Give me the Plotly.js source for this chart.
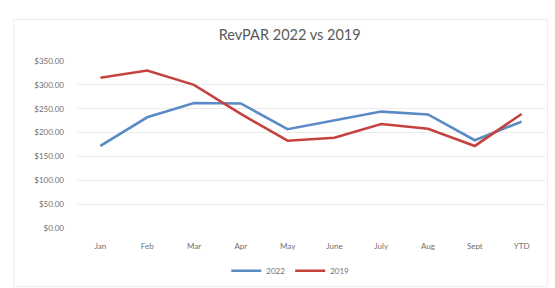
<!DOCTYPE html>
<html>
<head>
<meta charset="utf-8">
<script src="https://cdn.plot.ly/plotly-3.0.1.min.js"></script>
<style>html,body{margin:0;padding:0;background:#fff;}#chart{width:555px;height:288px;}</style>
</head>
<body>
<div id="chart"></div>
<script>
const months = ["Jan","Feb","Mar","Apr","May","June","July","Aug","Sept","YTD"];
const revpar2022 = [172, 232, 262, 261, 207, 225, 244, 238, 184, 223];
const revpar2019 = [315, 330, 300, 239, 183, 189, 218, 208, 172, 239];
const yTicks = [0, 50, 100, 150, 200, 250, 300, 350];
const yTickText = ["$0.00","$50.00","$100.00","$150.00","$200.00","$250.00","$300.00","$350.00"];

const traces = [
  {x: months, y: revpar2022, name: "2022", type: "scatter", mode: "lines",
   line: {color: "#5b8ac4", width: 2.6}},
  {x: months, y: revpar2019, name: "2019", type: "scatter", mode: "lines",
   line: {color: "#c4433f", width: 2.6}}
];

const layout = {
  width: 555, height: 288,
  paper_bgcolor: "#ffffff", plot_bgcolor: "#ffffff",
  font: {family: "Lato, 'Open Sans', sans-serif", color: "#6b6b6b", size: 8},
  margin: {l: 77, r: 10, t: 61, b: 60, autoexpand: false},
  title: {text: "RevPAR 2022 vs 2019", x: 0.522, xanchor: "center", y: 0.88, yanchor: "middle",
          font: {size: 14.5, color: "#5a5a5a", family: "Lato, 'Open Sans', sans-serif"}},
  xaxis: {type: "category", showgrid: false, zeroline: false, showline: false,
          ticks: "", ticklabelstandoff: 12, tickfont: {size: 8, color: "#707070"},
          range: [-0.5, 9.5], fixedrange: true, automargin: false},
  yaxis: {range: [0, 350], tickvals: yTicks, ticktext: yTickText, showgrid: true,
          gridcolor: "#ebebeb", gridwidth: 1, zeroline: false, showline: false,
          ticks: "", ticklabelstandoff: 12, tickfont: {size: 8, color: "#707070"},
          fixedrange: true, automargin: false},
  showlegend: true,
  legend: {orientation: "h", xref: "container", yref: "container", x: 0.523, xanchor: "center",
           y: 0.06, yanchor: "middle",
           font: {size: 8, color: "#707070"}, itemwidth: 30, tracegroupgap: 0,
           bgcolor: "rgba(0,0,0,0)"},
  shapes: [{type: "rect", xref: "paper", yref: "paper", x0: -0.135, x1: 1.005, y0: -0.35, y1: 1.25,
            line: {color: "#ececec", width: 1}, fillcolor: "rgba(0,0,0,0)", layer: "below"}]
};

Plotly.newPlot("chart", traces, layout, {displayModeBar: false, staticPlot: true});
</script>
</body>
</html>
